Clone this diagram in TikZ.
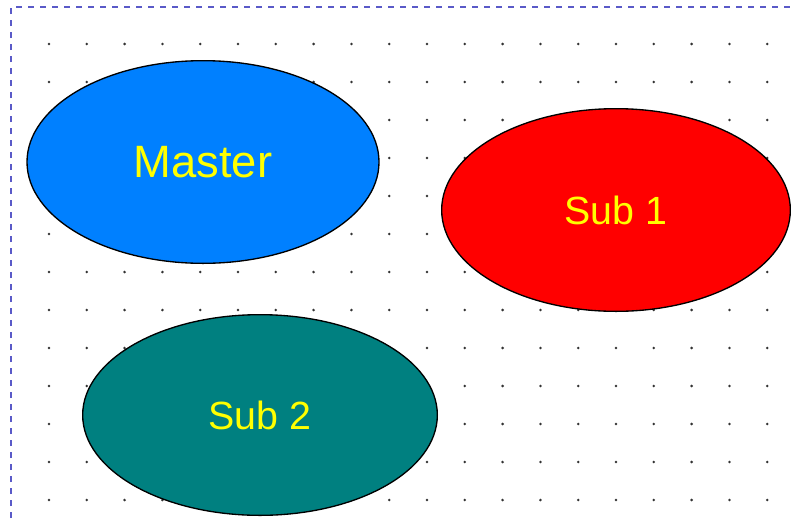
\documentclass[tikz,border=0pt]{standalone}
\usepackage{fontspec}
\newfontfamily\labelfont{Liberation Sans}
\usetikzlibrary{shapes.geometric}
\definecolor{MasterBlue}{HTML}{0080FF}
\definecolor{SubRed}{HTML}{FF0000}
\definecolor{SubTeal}{HTML}{008080}
\definecolor{LabelYellow}{HTML}{FFFF00}
\definecolor{GridDot}{HTML}{333333}
\definecolor{FrameBlue}{HTML}{5A5AC8}

\begin{document}
\begin{tikzpicture}[
	x=0.75pt, y=-0.75pt,
	blob/.style={ellipse, draw=black, line width=1pt, inner sep=0pt, text=LabelYellow, font=\labelfont\fontsize{29.5}{35}\selectfont},
	griddot/.style={fill=GridDot, circle, inner sep=0pt, minimum size=2.1pt},
	frame/.style={draw=FrameBlue, line width=1.8pt, dash pattern=on 4.5pt off 4.5pt}
]
\useasboundingbox[fill=white] (0,0) rectangle (791,518);

% dot grid
\foreach \i in {0,...,19}
	\foreach \j in {0,...,12}
		\node[griddot] (dot-\i-\j) at ({49+37.8*\i},{44+38*\j}) {};

% frame
\coordinate (frame-bl) at (11,518);
\coordinate (frame-tl) at (11,7);
\coordinate (frame-tr) at (791,7);
\draw[frame] (frame-bl) -- (frame-tl) -- (frame-tr);

\node[blob, fill=MasterBlue, minimum width=264pt, minimum height=152pt, font=\labelfont\fontsize{34}{40}\selectfont] (master) at (203,162) {Master};
\node[blob, fill=SubRed, minimum width=261.5pt, minimum height=152pt] (sub1) at (616,210) {Sub 1};
\node[blob, fill=SubTeal, minimum width=266pt, minimum height=150.5pt] (sub2) at (260,415) {Sub 2};
\end{tikzpicture}
\end{document}
